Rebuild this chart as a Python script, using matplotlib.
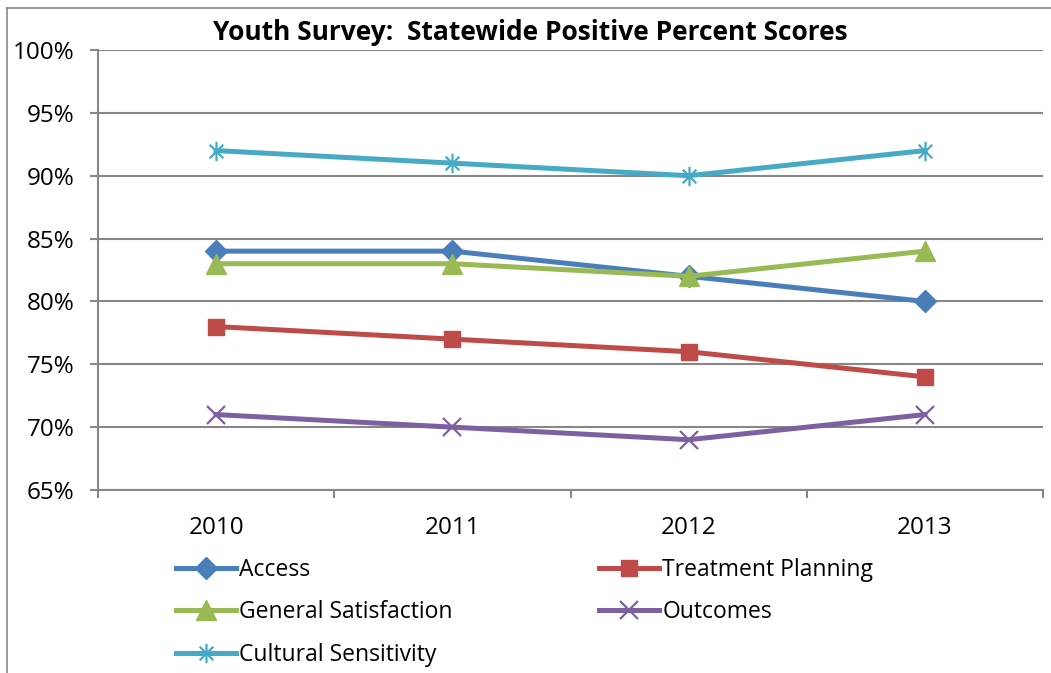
import matplotlib.pyplot as plt
from matplotlib.path import Path
from matplotlib.lines import Line2D

years = ['2010', '2011', '2012', '2013']
access = [84, 84, 82, 80]
treatment_planning = [78, 77, 76, 74]
general_satisfaction = [83, 83, 82, 84]
outcomes = [71, 70, 69, 71]
cultural_sensitivity = [92, 91, 90, 92]

plt.rcParams['font.family'] = ['Open Sans', 'DejaVu Sans']

# Excel style asterisk: an x plus a vertical bar
asterisk = Path([(-0.7, -0.7), (0.7, 0.7), (-0.7, 0.7), (0.7, -0.7), (0, -1), (0, 1)],
                [Path.MOVETO, Path.LINETO, Path.MOVETO, Path.LINETO, Path.MOVETO, Path.LINETO])

fig = plt.figure(figsize=(10.51, 6.73), dpi=100)
ax = fig.add_axes([98 / 1051, 183 / 673, 945 / 1051, 440 / 673])

x = list(range(len(years)))
lw = 3.6
ax.plot(x, access, color='#4A7EBB', lw=lw, marker='D', ms=11, label='Access', zorder=3)
ax.plot(x, treatment_planning, color='#BE4B48', lw=lw, marker='s', ms=12, label='Treatment Planning', zorder=3)
ax.plot(x, general_satisfaction, color='#98B954', lw=lw, marker='^', ms=14, label='General Satisfaction', zorder=3)
ax.plot(x, outcomes, color='#7D60A0', lw=lw, marker='x', ms=13, mew=1.6, label='Outcomes', zorder=3)
ax.plot(x, cultural_sensitivity, color='#46AAC5', lw=lw, marker=asterisk, ms=14, mew=1.6,
        mfc='none', label='Cultural Sensitivity', zorder=3)

ax.set_xlim(-0.5, 3.5)
ax.set_ylim(65, 100)
ax.set_yticks(range(65, 101, 5))
ax.set_yticklabels([f'{v}%' for v in range(65, 101, 5)])
ax.yaxis.grid(True, color='#878787', lw=1.5)
ax.set_axisbelow(True)

ax.set_xticks([-0.5, 0.5, 1.5, 2.5, 3.5])
ax.set_xticklabels([])
ax.set_xticks(x, minor=True)
ax.set_xticklabels(years, minor=True)
ax.tick_params(axis='x', which='major', length=6, width=1.5, color='#878787')
ax.tick_params(axis='x', which='minor', length=0, pad=19, labelsize=17.5)
ax.tick_params(axis='y', length=6, width=1.5, color='#878787', pad=11, labelsize=17.5)

for s in ['top', 'right']:
    ax.spines[s].set_visible(False)
for s in ['left', 'bottom']:
    ax.spines[s].set_color('#878787')
    ax.spines[s].set_linewidth(1.5)

fig.text(530 / 1051, 1 - 32 / 673, 'Youth Survey:  Statewide Positive Percent Scores',
         ha='center', va='center', fontsize=19, fontweight='bold')

# chart frame (only top and left edges are in view)
fig.add_artist(Line2D([7 / 1051, 7 / 1051], [0, 1 - 8 / 673], transform=fig.transFigure, color='#878787', lw=1.2))
fig.add_artist(Line2D([7 / 1051, 1], [1 - 8 / 673, 1 - 8 / 673], transform=fig.transFigure, color='#878787', lw=1.2))

h, l = ax.get_legend_handles_labels()
order = [0, 2, 4, 1, 3]
fig.legend([h[i] for i in order], [l[i] for i in order], ncol=2, loc='upper left',
           bbox_to_anchor=(176 / 1051, 1 - 558 / 673), frameon=False, fontsize=16.5,
           handlelength=2.6, handletextpad=0.15, columnspacing=6.4, labelspacing=0.8,
           borderaxespad=0, borderpad=0)

fig.savefig('out.png', dpi=100)
